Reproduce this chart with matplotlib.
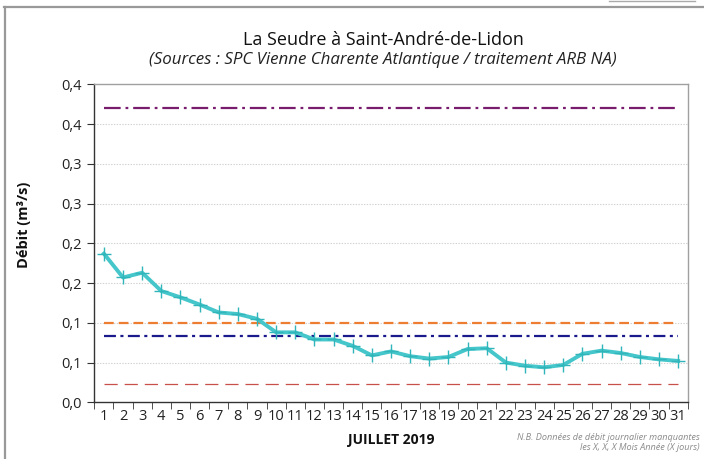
import matplotlib
matplotlib.use("Agg")
import matplotlib.pyplot as plt
from matplotlib.lines import Line2D

plt.rcParams['font.family'] = ['Open Sans', 'DejaVu Sans']
plt.rcParams['lines.scale_dashes'] = False

days = list(range(1, 32))
debit = [0.187, 0.157, 0.163, 0.140, 0.132, 0.123, 0.113, 0.111, 0.105, 0.088,
         0.088, 0.079, 0.079, 0.071, 0.059, 0.064, 0.058, 0.055, 0.057, 0.067,
         0.068, 0.050, 0.046, 0.044, 0.047, 0.061, 0.065, 0.062, 0.057, 0.054, 0.052]
seuil_violet = 0.370
seuil_orange = 0.100
seuil_bleu = 0.084
seuil_rouge = 0.023

ytick_vals = [0, 0.05, 0.1, 0.15, 0.2, 0.25, 0.3, 0.35, 0.4]
ytick_labels = ['0,0', '0,1', '0,1', '0,2', '0,2', '0,3', '0,3', '0,4', '0,4']

fig = plt.figure(figsize=(7.04, 4.59), dpi=100)
ax = fig.add_axes([94.3/704, 1-402.3/459, (687.7-94.3)/704, (402.3-84.3)/459])

ax.plot(days, [seuil_violet]*31, color='#7A1C6E', lw=1.6, dashes=[12, 3.5, 2, 3.5])
ax.plot(days, [seuil_orange]*31, color='#ED7D31', lw=1.6, dashes=[7, 3.6])
ax.plot(days, [seuil_bleu]*31, color='#1A1A8C', lw=1.6, dashes=[8.6, 3.2, 2.2, 3.2])
ax.plot(days, [seuil_rouge]*31, color='#C8504A', lw=0.9, dashes=[9.5, 5])

ax.plot(days, debit, color='#45C6CA', lw=2.8, marker='+', markersize=10,
        markeredgewidth=1.0, markeredgecolor='#30B5BA', solid_joinstyle='round')

ax.set_xlim(0.5, 31.5)
ax.set_ylim(0, 0.4)
ax.set_xticks(days)
ax.set_xticklabels([str(d) for d in days], fontsize=10.5, color='#222222')
ax.set_xticks([d + 0.5 for d in range(0, 32)], minor=True)
ax.tick_params(axis='x', which='major', length=0, pad=5)
ax.tick_params(axis='x', which='minor', length=5, direction='out', color='#333333')
ax.set_yticks(ytick_vals)
ax.set_yticklabels(ytick_labels, fontsize=10.5, color='#222222')
ax.tick_params(axis='y', length=5, direction='out', color='#333333', pad=4)

for v in ytick_vals[1:-1]:
    ax.axhline(v, color='#D2D2D2', lw=0.8, ls=(0, (1, 1)), zorder=0)

ax.spines['left'].set_color('#333333')
ax.spines['bottom'].set_color('#333333')
ax.spines['top'].set_color('#A0A0A0')
ax.spines['right'].set_color('#A0A0A0')
for s in ax.spines.values():
    s.set_linewidth(1.0)

fig.text(383/704, 1-40/459, 'La Seudre à Saint-André-de-Lidon', ha='center', va='center',
         fontsize=13, fontweight='medium', color='#111111')
fig.text(383/704, 1-60/459, '(Sources : SPC Vienne Charente Atlantique / traitement ARB NA)',
         ha='center', va='center', fontsize=12.2, style='italic', color='#222222')
fig.text(24/704, 1-225/459, 'Débit (m³/s)', rotation=90, ha='center', va='center',
         fontsize=10.5, fontweight='bold', color='#111111')
fig.text(391/704, 1-440/459, 'JUILLET 2019', ha='center', va='center',
         fontsize=10, fontweight='bold', color='#111111')
fig.text(700/704, 1-437/459, 'N.B. Données de débit journalier manquantes', ha='right', va='center',
         fontsize=6.6, style='italic', color='#8A8A8A')
fig.text(700/704, 1-448/459, 'les X, X, X Mois Année (X jours)', ha='right', va='center',
         fontsize=6.6, style='italic', color='#8A8A8A')

# outer frame lines
fig.add_artist(Line2D([4/704, 1], [1-7/459, 1-7/459], transform=fig.transFigure, color='#999999', lw=1.6))
fig.add_artist(Line2D([4.5/704, 4.5/704], [0, 1-7/459], transform=fig.transFigure, color='#999999', lw=1.6))
fig.add_artist(Line2D([609/704, 695/704], [1-0.7/459, 1-0.7/459], transform=fig.transFigure, color='#AAAAAA', lw=1.0))

fig.savefig('out.png', dpi=100)
